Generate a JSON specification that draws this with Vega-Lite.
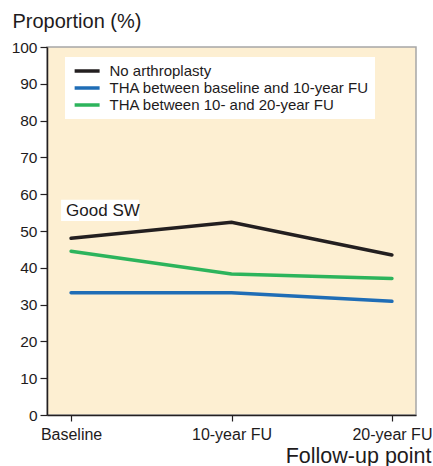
{
  "$schema": "https://vega.github.io/schema/vega-lite/v6.json",
  "width": 369,
  "height": 368,
  "autosize": {"type": "none"},
  "padding": {"left": 47, "top": 47, "right": 17, "bottom": 51},
  "background": "white",
  "config": {
    "font": "Liberation Sans",
    "view": {"stroke": "#a7a7a7", "strokeWidth": 1.5, "fill": "#fdefd2"}
  },
  "datasets": {
    "series": [
      {"point": "Baseline", "group": "No arthroplasty", "value": 48.0},
      {"point": "10-year FU", "group": "No arthroplasty", "value": 52.4},
      {"point": "20-year FU", "group": "No arthroplasty", "value": 43.5},
      {"point": "Baseline", "group": "THA between baseline and 10-year FU", "value": 33.2},
      {"point": "10-year FU", "group": "THA between baseline and 10-year FU", "value": 33.2},
      {"point": "20-year FU", "group": "THA between baseline and 10-year FU", "value": 30.9},
      {"point": "Baseline", "group": "THA between 10- and 20-year FU", "value": 44.5},
      {"point": "10-year FU", "group": "THA between 10- and 20-year FU", "value": 38.3},
      {"point": "20-year FU", "group": "THA between 10- and 20-year FU", "value": 37.1}
    ],
    "notes": [
      {"point": "Baseline", "value": 55.6, "label": "Good SW"}
    ]
  },
  "encoding": {
    "x": {
      "field": "point", "type": "ordinal",
      "sort": ["Baseline", "10-year FU", "20-year FU"],
      "scale": {"type": "point", "padding": 0.15},
      "axis": {
        "title": "Follow-up point", "labelAngle": 0,
        "labelFontSize": 16, "labelColor": "#1e1b1c", "labelPadding": 5,
        "tickSize": 6, "tickColor": "#231f20", "tickWidth": 1.2,
        "domainColor": "#231f20", "domainWidth": 1.5,
        "titleFontSize": 21.5, "titleFontWeight": "normal", "titleColor": "#1e1b1c",
        "titleAlign": "right", "titleAnchor": "end", "titleX": 384, "titleY": 47, "titleBaseline": "alphabetic"
      }
    },
    "y": {
      "field": "value", "type": "quantitative",
      "scale": {"domain": [0, 100], "nice": false},
      "axis": {
        "title": "Proportion (%)", "values": [0,10,20,30,40,50,60,70,80,90,100],
        "labelOverlap": false,
        "grid": false, "labelFontSize": 15.5, "labelColor": "#1e1b1c", "labelPadding": 3,
        "tickSize": 7, "tickColor": "#231f20", "tickWidth": 1.2,
        "domainColor": "#231f20", "domainWidth": 1.5,
        "titleFontSize": 20, "titleFontWeight": "normal", "titleColor": "#1e1b1c",
        "titleAngle": 0, "titleAlign": "left", "titleX": -35, "titleY": -20, "titleBaseline": "alphabetic"
      }
    }
  },
  "layer": [
    {
      "data": {"name": "series"},
      "mark": {"type": "line", "strokeWidth": 3.5, "strokeCap": "round"},
      "encoding": {
        "color": {
          "field": "group", "type": "nominal",
          "scale": {
            "domain": ["No arthroplasty", "THA between baseline and 10-year FU", "THA between 10- and 20-year FU"],
            "range": ["#231f20", "#1f6db6", "#2db45c"]
          },
          "legend": {
            "title": null, "orient": "none", "legendX": 18, "legendY": 10,
            "fillColor": "white", "padding": 6,
            "symbolType": "M-0.7,0H3.3", "symbolSize": 156, "symbolStrokeWidth": 3.5,
            "labelFontSize": 15, "labelColor": "#1e1b1c", "labelOffset": 22.5,
            "rowPadding": 1, "labelLimit": 400
          }
        }
      }
    },
    {
      "data": {"name": "notes"},
      "mark": {"type": "point", "filled": true, "opacity": 1, "color": "white", "strokeWidth": 0,
               "shape": "M-0.256,-0.27H1.744V0.27H-0.256Z", "size": 6084}
    },
    {
      "data": {"name": "notes"},
      "mark": {"type": "text", "align": "left", "baseline": "middle", "dx": -5, "dy": 1, "fontSize": 17, "color": "#1e1b1c"},
      "encoding": {
        "text": {"field": "label"}
      }
    }
  ]
}
